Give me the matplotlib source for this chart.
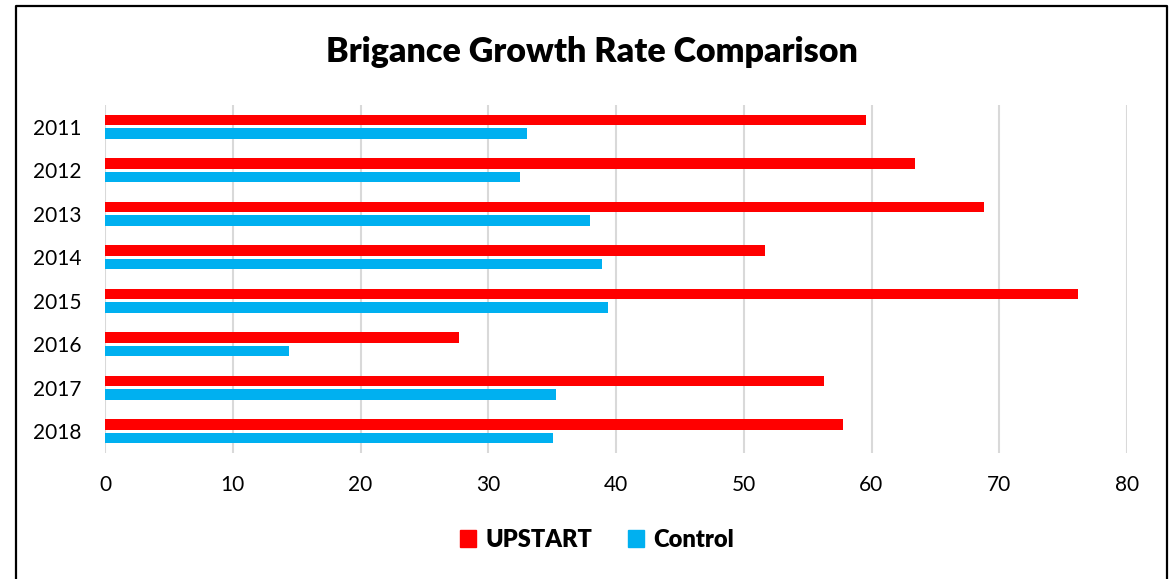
import numpy as np
import matplotlib
matplotlib.use('Agg')
import matplotlib.pyplot as plt
from matplotlib.lines import Line2D
from matplotlib.patches import Patch

plt.rcParams['font.family'] = ['Lato', 'DejaVu Sans']

years = ['2011', '2012', '2013', '2014', '2015', '2016', '2017', '2018']
upstart = [59.6, 63.4, 68.8, 51.7, 76.2, 27.7, 56.3, 57.8]
control = [33.0, 32.5, 38.0, 38.9, 39.4, 14.4, 35.3, 35.1]

red = '#FF0000'
blue = '#00B0F0'

W, H = 1169, 579
fig = plt.figure(figsize=(W / 100, H / 100), dpi=100)
ax = fig.add_axes([105 / W, 1 - 453 / H, (1127 - 105) / W, (453 - 105) / H])

y = np.arange(len(years))
bh = 0.245
off = 0.155
ax.barh(y - off, upstart, height=bh, color=red, label='UPSTART', zorder=3)
ax.barh(y + off, control, height=bh, color=blue, label='Control', zorder=3)

ax.set_ylim(len(years) - 0.5, -0.5)
ax.set_xlim(0, 80)
ax.set_xticks(range(0, 81, 10))
ax.set_yticks(y)
ax.set_yticklabels(years)
ax.grid(axis='x', color='#d9d9d9', linewidth=1.5, zorder=0)
ax.tick_params(axis='both', length=0, labelsize=15, colors='black')
ax.tick_params(axis='y', pad=17)
ax.tick_params(axis='x', pad=16)
for s in ax.spines.values():
    s.set_visible(False)

fig.text(592 / W, 1 - 52 / H, 'Brigance Growth Rate Comparison', ha='center', va='center',
         fontsize=24.5, fontweight='heavy')

handles = [Patch(color=red), Patch(color=blue)]
fig.legend(handles, ['UPSTART', 'Control'], loc='center', bbox_to_anchor=(597 / W, 1 - 540 / H),
           ncol=2, frameon=False, prop={'size': 17, 'weight': 'heavy'},
           handlelength=0.7, handleheight=0.7, handletextpad=0.4, columnspacing=1.5)

# chart border
bx = [16 / W, 16 / W, 1167 / W, 1167 / W]
by = [-0.05, 1 - 6 / H, 1 - 6 / H, -0.05]
fig.add_artist(Line2D(bx, by, color='black', linewidth=1.6, transform=fig.transFigure))

fig.savefig('out.png', dpi=100)
